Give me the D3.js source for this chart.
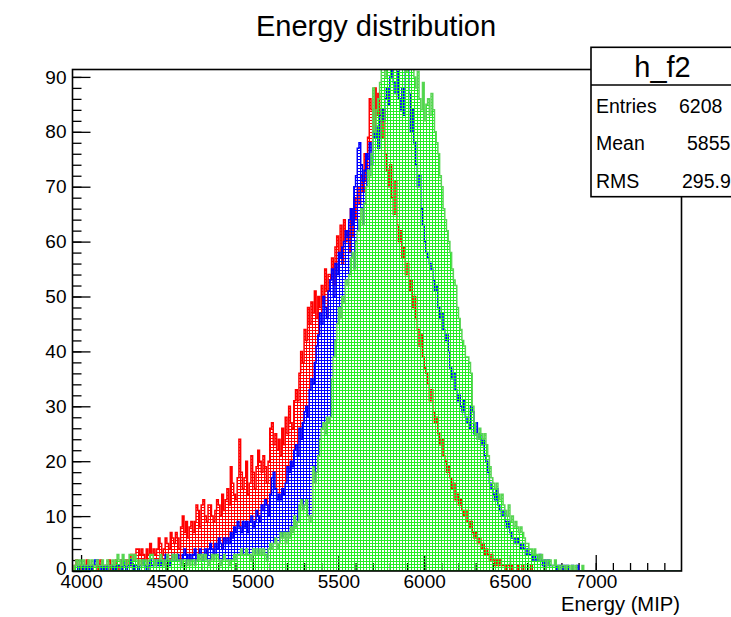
<!DOCTYPE html>
<html><head><meta charset="utf-8">
<script src="https://cdn.jsdelivr.net/npm/d3@7"></script>
<style>body{margin:0;background:#fff;} svg{display:block;} text{font-family:"Liberation Sans",Arial,sans-serif;}</style>
</head><body>
<script>
// ---- data (counts per 10 MIP bin, first bin starts at 3950) ----
const binStart = 3950, binWidth = 10, xMin = 3950, xMax = 7500, yMax = 91.35;
const redCounts = [
0,1,2,1,0,1,0,1,2,1,  1,0,1,1,0,1,2,1,0,1,  1,2,0,1,1,2,1,0,2,1,  1,2,2,1,3,2,3,4,4,3,
4,3,2,4,3,5,3,4,3,4,  6,5,3,4,6,5,4,7,6,5,  7,6,4,8,10,7,9,6,8,9,  7,9,12,11,8,12,13,10,9,12,
12,10,9,11,13,12,10,14,11,13,  15,12,19,16,14,13,17,24,18,15,  17,20,14,16,21,18,15,19,22,20,
18,21,19,16,20,26,27,23,25,22,  24,21,26,23,28,25,30,27,26,31,  33,31,36,40,38,44,42,48,45,49,
47,51,46,50,48,52,49,55,51,54,  54,57,52,59,61,58,63,56,64,60,  62,58,66,61,68,64,70,67,72,69,
76,71,79,86,84,80,88,83,87,82,  79,84,76,73,70,74,68,65,71,63,  60,62,57,59,54,56,51,53,48,50,
46,44,41,43,39,37,36,34,31,33,  29,27,28,25,23,24,21,20,18,19,  17,15,16,13,14,12,13,11,10,11,
9,8,9,7,6,7,5,6,4,5,  3,4,3,2,3,2,1,2,1,2,  1,1,0,1,1,0,1,0,0,1,  0,0,1,0,0,0,0,1,0,0];
const blueCounts = [
0,0,0,1,0,0,1,0,1,0,  1,0,1,2,2,1,0,1,0,1,  0,1,1,0,1,0,1,1,0,2,  1,0,1,1,2,0,1,1,0,1,
1,2,1,0,1,2,1,1,2,1,  2,1,2,1,3,2,1,2,3,2,  2,3,2,1,3,4,3,2,3,2,  3,4,2,3,4,3,2,4,3,4,
5,4,3,5,4,6,5,4,6,5,  6,5,7,6,8,7,9,8,7,9,  8,9,7,9,10,8,9,11,10,9,  12,11,13,12,10,14,17,18,15,13,
14,13,15,14,16,19,18,20,19,22,  23,21,26,24,27,29,30,28,33,35,  34,38,41,43,47,45,50,48,46,51,
53,55,50,56,54,58,57,59,60,62,  61,64,66,63,70,72,77,78,74,71,  73,76,75,78,74,80,79,81,77,83,
84,82,86,88,85,90,94,89,87,91,  86,84,88,83,92,95,87,80,84,78,  74,70,72,66,63,60,58,57,56,55,
53,51,52,48,46,47,44,42,43,40,  37,35,36,33,31,32,30,29,31,28,  27,26,30,29,25,27,24,25,23,24,
21,20,18,16,15,14,13,15,12,11,  10,11,9,8,9,7,6,6,5,6,  5,4,5,4,3,4,3,3,2,3,  2,2,3,2,1,2,1,2,1,1,
1,1,0,1,1,0,1,0,1,0,  0,1,0,0,1,0,0,0,0,0];
const greenCounts = [
0,1,2,1,2,1,2,1,1,2,  1,2,1,1,2,1,1,2,1,1,  2,1,1,2,1,2,3,2,1,3,  2,1,2,3,3,2,3,2,1,2,
1,2,2,1,2,3,3,2,1,2,  2,3,2,1,2,3,2,2,3,2,  3,2,2,1,2,2,1,2,1,2,  2,1,2,3,2,3,2,3,2,1,
2,3,2,3,3,2,1,2,3,2,  2,1,2,2,3,2,3,3,4,3,  3,4,3,3,2,4,3,4,3,4,  3,4,3,2,4,5,4,5,6,4,
5,7,6,7,5,7,6,8,7,10,  8,9,12,13,11,12,13,10,9,10,  19,16,18,21,24,26,27,25,28,27,
28,35,39,42,45,48,46,50,49,53,  52,54,57,58,55,60,62,64,66,63,  67,70,73,72,76,88,80,84,86,89,
92,95,90,97,93,96,99,94,98,92,  96,93,99,95,91,97,94,92,95,90,  88,91,86,84,89,82,85,86,83,87,
84,80,78,76,72,70,66,64,62,60,  58,55,53,52,48,46,44,42,41,39,  39,38,36,30,27,25,24,26,25,24,
25,23,21,19,17,16,15,16,14,13,  14,12,11,10,12,9,10,8,9,8,  7,8,7,6,5,5,4,4,3,4,
3,3,2,3,2,2,1,2,2,1,  1,2,1,1,0,1,1,0,1,1,  0,1,0,1,0,0,0,1,0,0];
const yTicks = [0,10,20,30,40,50,60,70,80,90];
const xTicks = [4000,4500,5000,5500,6000,6500,7000];
const stats = [["Entries","6208"],["Mean","5855"],["RMS","295.9"]];

// ---- layout ----
const W = 731, H = 617;
const L = 72.5, R = 681.5, T = 69.5, B = 571;
const svg = d3.select("body").append("svg").attr("width", W).attr("height", H);
const x = d3.scaleLinear().domain([xMin, xMax]).range([L, R]);
const y = d3.scaleLinear().domain([0, yMax]).range([B, T]);

const defs = svg.append("defs");
defs.append("clipPath").attr("id","frameClip").append("rect")
  .attr("x", L).attr("y", T).attr("width", R-L).attr("height", B-T);
function makePattern(id, color){
  const p = defs.append("pattern").attr("id", id).attr("patternUnits","userSpaceOnUse")
    .attr("x",0).attr("y",0).attr("width",3).attr("height",3);
  p.append("rect").attr("x",0).attr("y",0).attr("width",3).attr("height",1).attr("fill",color).attr("shape-rendering","crispEdges");
  p.append("rect").attr("x",0).attr("y",1).attr("width",1).attr("height",2).attr("fill",color).attr("shape-rendering","crispEdges");
}
makePattern("patR","#ff0000");
makePattern("patB","#0000ff");
makePattern("patG","#22ee22");

// ---- axes (drawn first, so the pattern gaps show them) ----
const fs = 19;
const xMinor = d3.range(4000, 7500, 100);
const yMinor = d3.range(0, 92, 2);
svg.append("g").attr("transform",`translate(0,${B})`)
  .call(d3.axisBottom(x).tickValues(xMinor).tickSize(-8).tickFormat(""))
  .call(g=>g.select(".domain").remove());
svg.append("g").attr("transform",`translate(0,${B})`)
  .call(d3.axisBottom(x).tickValues(xTicks).tickSize(-16).tickPadding(3).tickFormat(d3.format("d")))
  .call(g=>g.select(".domain").remove())
  .call(g=>g.selectAll("text").attr("font-size",fs).attr("fill","#000").attr("font-family","Liberation Sans, Arial, sans-serif"));
svg.append("g").attr("transform",`translate(${L},0)`)
  .call(d3.axisLeft(y).tickValues(yMinor).tickSize(-9).tickFormat(""))
  .call(g=>g.select(".domain").remove());
svg.append("g").attr("transform",`translate(${L},0)`)
  .call(d3.axisLeft(y).tickValues(yTicks).tickSize(-18).tickPadding(6).tickFormat(d3.format("d")))
  .call(g=>g.select(".domain").remove())
  .call(g=>g.selectAll("text").attr("font-size",fs).attr("fill","#000").attr("font-family","Liberation Sans, Arial, sans-serif")
    .filter(d=>d===0).attr("dy","0.2em"));
svg.selectAll(".tick line").attr("stroke","#000").attr("stroke-width",1.3);

// ---- histograms ----
const nBins = Math.round((xMax - xMin) / binWidth);
function stepPoints(counts){
  const pts = [[xMin, 0]];
  for (let i = 0; i < nBins; i++) pts.push([binStart + i*binWidth, counts[i] || 0]);
  pts.push([xMax, 0]);
  return pts;
}
const line = d3.line().x(d=>x(d[0])).y(d=>y(d[1])).curve(d3.curveStepAfter);
const hg = svg.append("g").attr("clip-path","url(#frameClip)");
const series = [
  {counts: redCounts, pat: "patR", col: "#ff0000"},
  {counts: blueCounts, pat: "patB", col: "#0000ff"},
  {counts: greenCounts, pat: "patG", col: "#59d454"}
];
series.forEach(s=>{
  const pts = stepPoints(s.counts);
  hg.append("path").attr("d", line(pts) + "Z").attr("fill", `url(#${s.pat})`).attr("stroke","none");
  hg.append("path").attr("d", line(pts)).attr("fill","none").attr("stroke", s.col).attr("stroke-width",1.5);
});

// ---- frame ----
svg.append("rect").attr("x",L).attr("y",T).attr("width",R-L).attr("height",B-T)
  .attr("fill","none").attr("stroke","#000").attr("stroke-width",1.6);

// ---- title / axis title ----
svg.append("text").attr("x",376).attr("y",36).attr("text-anchor","middle").attr("font-size",29).text("Energy distribution");
svg.append("text").attr("x",680).attr("y",611).attr("text-anchor","end").attr("font-size",20.2).text("Energy (MIP)");

// ---- stats box ----
const sb = svg.append("g");
sb.append("rect").attr("x",591).attr("y",47.3).attr("width",160).attr("height",149.4)
  .attr("fill","#fff").attr("stroke","#000").attr("stroke-width",1.6);
sb.append("line").attr("x1",591).attr("x2",751).attr("y1",85).attr("y2",85).attr("stroke","#000").attr("stroke-width",1.6);
sb.append("text").attr("x",662.5).attr("y",77).attr("text-anchor","middle").attr("font-size",29).text("h_f2");
const rowY = [113, 150, 188];
const valX = [679, 687, 682];
stats.forEach((r,i)=>{
  sb.append("text").attr("x",596).attr("y",rowY[i]).attr("font-size",19.5).text(r[0]);
  sb.append("text").attr("x",valX[i]).attr("y",rowY[i]).attr("font-size",19.5).text(r[1]);
});
</script>
</body></html>
